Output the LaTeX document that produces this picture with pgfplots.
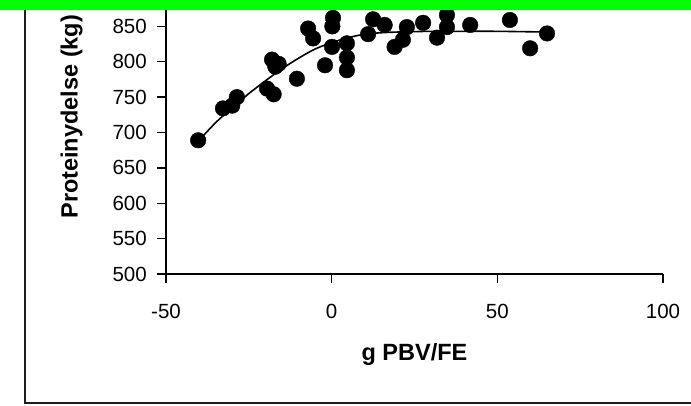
\documentclass[border=0pt]{standalone}
\usepackage{pgfplots}
\pgfplotsset{compat=1.18}
\usepackage{fontspec}
\setmainfont{Liberation Sans}
\definecolor{brightgreen}{RGB}{0,255,0}
\definecolor{framegray}{RGB}{30,30,30}
\begin{document}
\begin{tikzpicture}[x=1pt,y=1pt]
\useasboundingbox (0,0) rectangle (691,406);
\clip (0,0) rectangle (691,406);
\begin{axis}[
  at={(166pt,132pt)}, anchor=south west,
  scale only axis, width=497pt, height=283pt,
  xmin=-50, xmax=100, ymin=500, ymax=900,
  xtick={-50,0,50,100}, ytick={500,550,...,850},
  axis x line=bottom, axis y line=left,
  axis line style={-, line width=1.3pt, black},
  tick align=outside, major tick length=9pt,
  tick style={line width=1.3pt, black},
  /pgf/number format/assume math mode=true,
  ticklabel style={font=\fontsize{20.5}{24}\selectfont},
  yticklabel style={inner sep=0pt, anchor=east, xshift=-10pt},
  xticklabel style={inner sep=0pt, anchor=center, yshift=-28pt},
  xlabel={g PBV/FE},
  xlabel style={font=\fontsize{23.5}{28}\selectfont\bfseries, at={(axis description cs:0.5,-0.286)}, anchor=center},
  ylabel={Proteinydelse (kg)},
  ylabel style={font=\fontsize{23.5}{28}\selectfont\bfseries, at={(axis description cs:-0.19,0.195)}, anchor=west, inner sep=0pt},
  clip=false,
]
\addplot[black, line width=1.6pt, smooth, no marks] coordinates {
(-40,689) (-35,714) (-30,735) (-25,755) (-20,773) (-15,790) (-10,805) (-5,818) (0,827) (5,834) (10,839) (15,841) (20,842) (30,843) (40,843) (50,843) (65,842)
};
\addplot[only marks, mark=*, mark size=7.8pt, black, mark options={fill=black, draw=black}] coordinates {
(-40.3,689) (-32.8,734) (-30,738) (-28.6,750) (-19.5,762) (-17.5,754)
(-18,803) (-16,797) (-17,793) (-10.5,776) (-7.1,847) (-5.6,833)
(-2,795) (0.1,821) (0.4,862) (0.2,850) (4.6,826) (4.6,806) (4.6,788)
(11,839) (12.5,860) (16,852) (19,821) (21.5,831) (22.7,849) (27.6,855)
(31.8,834) (34.8,849) (34.8,866) (41.8,852) (53.8,859) (59.9,819) (65,840)
};
\end{axis}
\draw[framegray, line width=2.5pt] (25,420) -- (25,3) -- (700,3);
\fill[brightgreen] (-5,395.5) rectangle (700,410);
\end{tikzpicture}
\end{document}
